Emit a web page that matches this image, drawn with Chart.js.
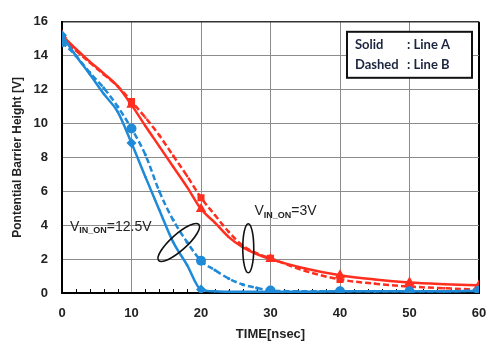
<!DOCTYPE html>
<html><head><meta charset="utf-8">
<script src="https://cdn.jsdelivr.net/npm/chart.js@4/dist/chart.umd.min.js"></script>
<style>html,body{margin:0;padding:0;background:#fff}#wrap{width:490px;height:347px;position:relative}</style>
</head><body><div id="wrap"><canvas id="c"></canvas></div>
<script>
// ---- data ----
const timeNs = [0,2,4,6,8,10,12,14,16,18,20,22,24,26,28,30,35,40,45,50,55,60];
const lineA_3V    = [15.2,14.4,13.65,12.95,12.2,11.1,9.85,8.65,7.45,6.25,4.95,4.15,3.3,2.7,2.3,2.0,1.45,1.05,0.8,0.62,0.52,0.45];
const lineB_3V    = [15.0,14.3,13.6,12.9,12.2,11.3,10.35,9.3,8.1,6.9,5.62,4.6,3.6,2.8,2.35,2.05,1.3,0.8,0.55,0.38,0.28,0.2];
const lineA_12p5V = [15.2,14.0,12.9,11.75,10.7,8.85,6.85,4.9,3.0,1.65,0.2,0.1,0.08,0.08,0.08,0.08,0.08,0.1,0.1,0.1,0.1,0.12];
const lineB_12p5V = [14.8,14.0,13.0,12.1,11.0,9.7,8.15,6.0,4.3,3.0,1.9,1.35,0.85,0.5,0.3,0.15,0.1,0.1,0.1,0.1,0.1,0.15];
const xTicks = [0,10,20,30,40,50,60];
const yTicks = [0,2,4,6,8,10,12,14,16];
const legendLines = [["Solid", ": Line A"], ["Dashed", ": Line B"]];
const labelHigh = {main:"V", sub:"IN_ON", tail:"=12.5V"};
const labelLow  = {main:"V", sub:"IN_ON", tail:"=3V"};

const RED = '#ff2e1f', BLUE = '#1f8ad8';
const pts = arr => timeNs.map((t,i)=>({x:t,y:arr[i]}));
const bigAt = (big, small) => ctx => (ctx.raw && ctx.raw.x % 10 === 0) ? big : small;

function ds(label, arr, color, dashed, style){
  return {label, data: pts(arr), borderColor: color, backgroundColor: color,
    borderWidth: 2.5, borderDash: dashed ? [6,3] : [], tension: 0.4,
    cubicInterpolationMode: 'monotone', pointStyle: style,
    pointRadius: bigAt(style==='triangle'?6:5, 1.6), pointHoverRadius: 0,
    pointBorderWidth: 0};
}

const FONT = "'Liberation Sans', Arial, sans-serif";

const deco = {
  id: 'deco',
  beforeDatasetsDraw(chart){
    const {ctx, scales:{x,y}} = chart;
    ctx.save(); ctx.strokeStyle = '#000'; ctx.lineWidth = 1;
    for (let v = 2; v < 60; v += 2){
      if (v % 10 === 0) continue;
      const px = Math.round(x.getPixelForValue(v)) + 0.5;
      ctx.beginPath(); ctx.moveTo(px, y.bottom); ctx.lineTo(px, y.bottom - 4); ctx.stroke();
    }
    ctx.restore();
  },
  afterDatasetsDraw(chart){
    const {ctx, scales:{x,y}, chartArea:ca} = chart;
    ctx.save();
    ctx.strokeStyle = '#111'; ctx.lineWidth = 1.6;
    ctx.beginPath();
    ctx.ellipse(x.getPixelForValue(16.8), y.getPixelForValue(2.98), 27, 8, -Math.PI/4.3, 0, Math.PI*2);
    ctx.stroke();
    ctx.beginPath();
    ctx.ellipse(x.getPixelForValue(26.8), y.getPixelForValue(2.64), 5.5, 24.5, 0, 0, Math.PI*2);
    ctx.stroke();
    function lab(l, xv, yv){
      let px = x.getPixelForValue(xv), py = y.getPixelForValue(yv);
      ctx.fillStyle = '#222'; ctx.textBaseline = 'middle'; ctx.textAlign = 'left';
      ctx.font = "14px " + FONT; ctx.fillText(l.main, px, py); px += ctx.measureText(l.main).width;
      ctx.font = "bold 9px " + FONT; ctx.fillText(l.sub, px, py + 4); px += ctx.measureText(l.sub).width;
      ctx.font = "14px " + FONT; ctx.fillText(l.tail, px, py);
    }
    lab(labelHigh, 1.15, 3.9);
    lab(labelLow, 27.7, 4.8);
    const bx = ca.right - 132, by = ca.top + 10, bw = 125, bh = 46;
    ctx.fillStyle = '#fff'; ctx.fillRect(bx, by, bw, bh);
    ctx.strokeStyle = '#111'; ctx.lineWidth = 2; ctx.strokeRect(bx, by, bw, bh);
    ctx.fillStyle = '#1c2540'; ctx.font = "bold 13px Lato, " + FONT; ctx.textBaseline = 'middle';
    legendLines.forEach((r, i) => {
      const ty = by + 13 + i * 20;
      ctx.fillText(r[0], bx + 8, ty);
      ctx.fillText(r[1], bx + 60, ty);
    });
    ctx.restore();
  }
};

new Chart(document.getElementById('c'), {
  type: 'line',
  data: { datasets: [
    ds('Line A 12.5V', lineA_12p5V, BLUE, false, 'rectRot'),
    ds('Line B 12.5V', lineB_12p5V, BLUE, true, 'circle'),
    ds('Line B 3V', lineB_3V, RED, true, 'rect'),
    ds('Line A 3V', lineA_3V, RED, false, 'triangle'),
  ]},
  options: {
    responsive: true, maintainAspectRatio: false, animation: false,
    layout: { padding: { top: 14, right: 11, left: 10, bottom: 0 } },
    plugins: { legend: { display: false }, tooltip: { enabled: false } },
    scales: {
      x: { type: 'linear', min: 0, max: 60,
        afterBuildTicks: s => { s.ticks = xTicks.map(v => ({value: v})); },
        afterFit: s => { s.height = 54; },
        ticks: { color: '#222', font: { family: FONT, size: 13, weight: 'bold' }, padding: 3 },
        grid: { drawTicks: true, tickLength: 10, tickColor: 'rgba(0,0,0,0)',
          color: c => c.tick && c.tick.value === 60 ? '#000' : '#8c8c8c',
          lineWidth: c => c.tick && c.tick.value === 60 ? 2 : 1 },
        border: { color: '#000', width: 2 },
        title: { display: true, text: 'TIME[nsec]', color: '#222', font: { family: FONT, size: 13, weight: 'bold' }, padding: { top: 0, bottom: 5 } }
      },
      y: { min: 0, max: 16,
        afterBuildTicks: s => { s.ticks = yTicks.map(v => ({value: v})); },
        afterFit: s => { s.width = 52; },
        ticks: { color: '#222', font: { family: FONT, size: 13, weight: 'bold' }, padding: 14 },
        grid: { drawTicks: false,
          color: c => c.tick && c.tick.value === 16 ? '#333' : '#8c8c8c',
          lineWidth: c => c.tick && c.tick.value === 16 ? 1.5 : 1 },
        border: { color: '#000', width: 2 },
        title: { display: true, text: 'Pontential Barrier Height [V]', color: '#222', font: { family: FONT, size: 12, weight: 'bold' }, padding: { top: 0, bottom: 4 } }
      }
    }
  },
  plugins: [deco]
});
</script></body></html>
